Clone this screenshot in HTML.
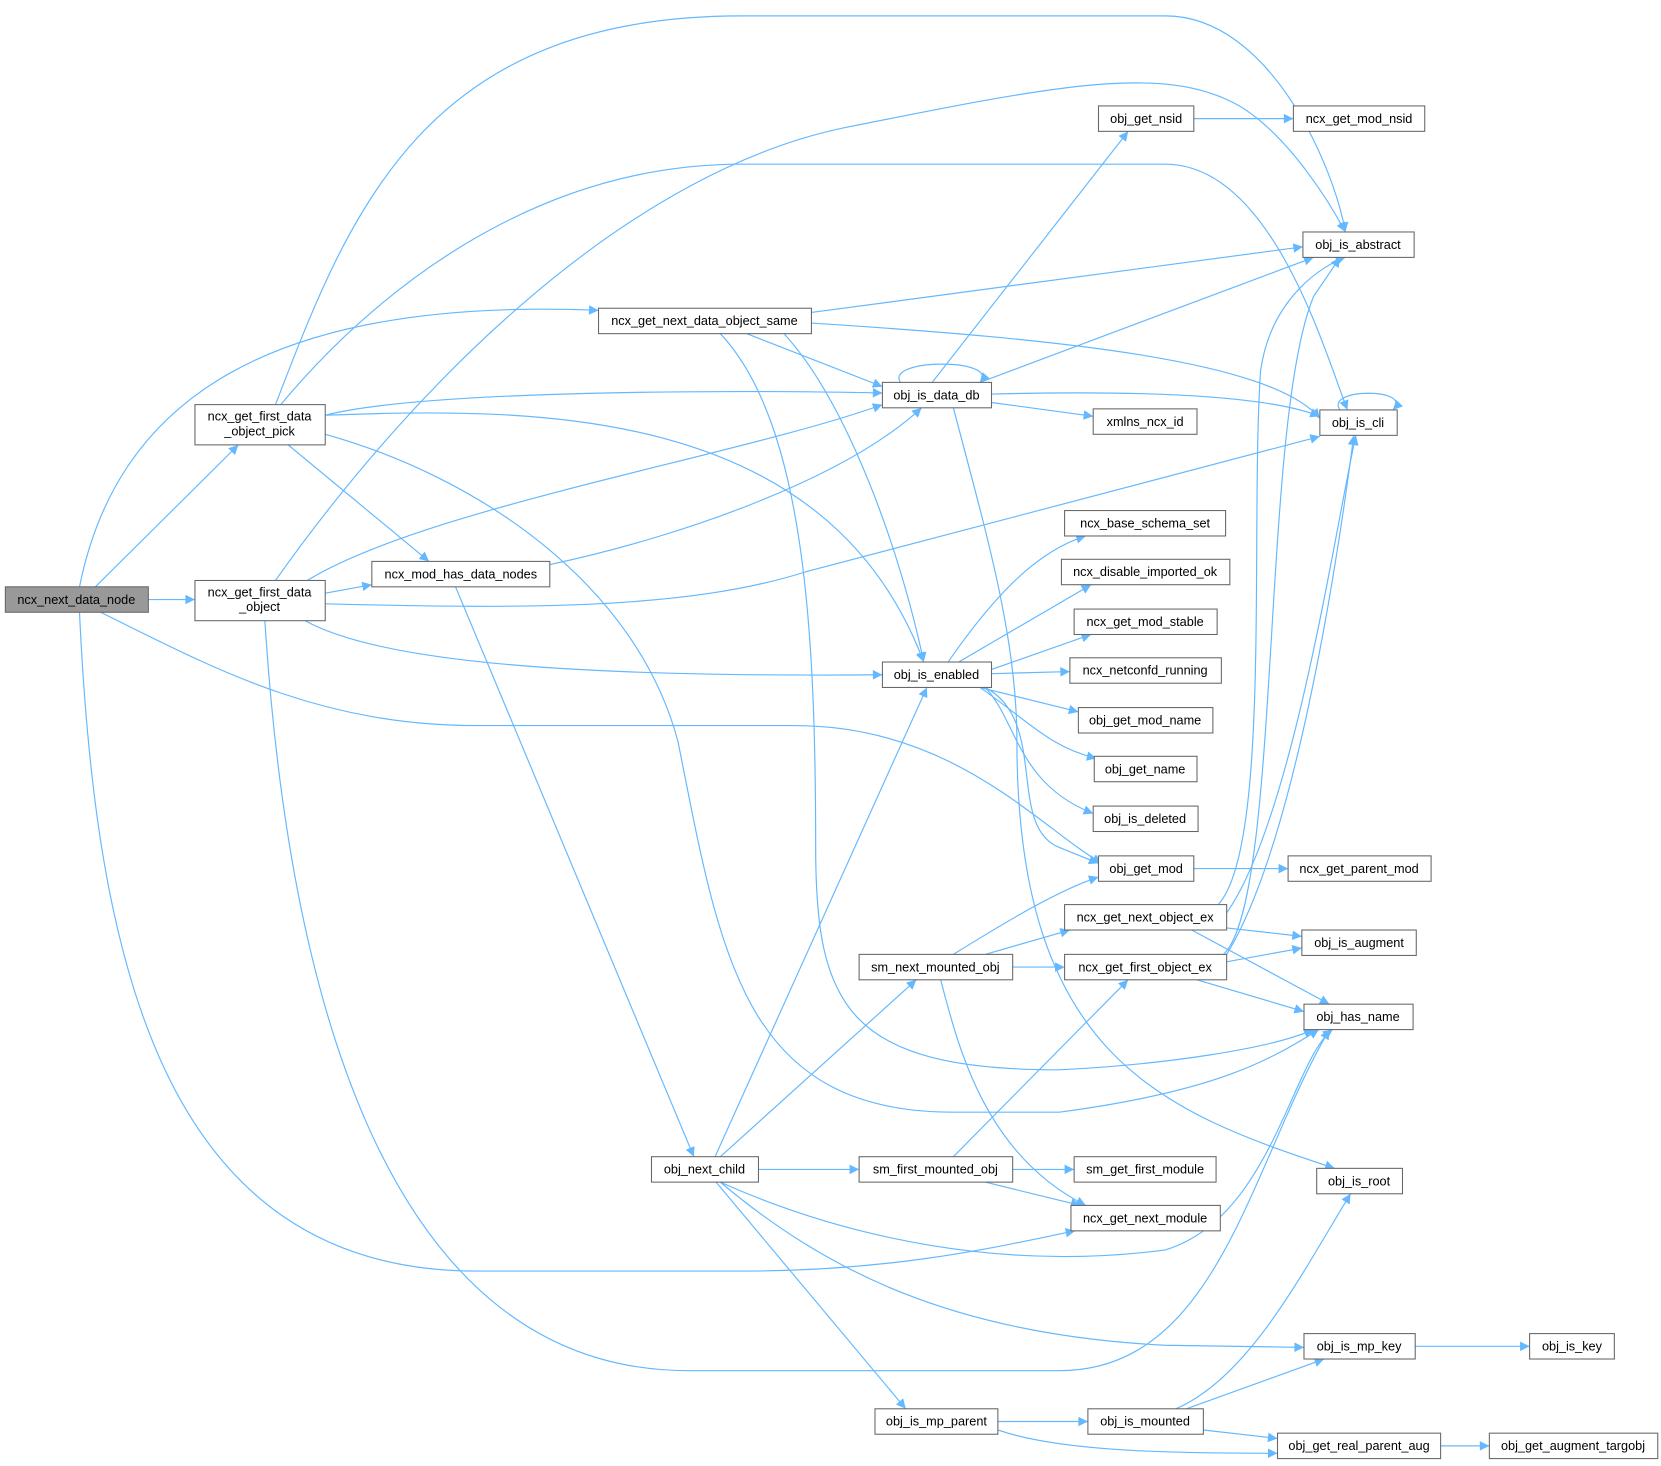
<!DOCTYPE html>
<html><head><meta charset="utf-8"><style>
html,body{margin:0;padding:0;background:#fff;}
svg{display:block}
text{font-family:"Liberation Sans",Arial,sans-serif;font-size:12px;fill:#000;text-anchor:middle}
.e{fill:none;stroke:#63b8ff;stroke-width:1.1}
.n{fill:#fff;stroke:#666;stroke-width:1}
</style></head><body>
<svg width="1661" height="1466" viewBox="0 0 1568 1384" xmlns="http://www.w3.org/2000/svg">
<defs><marker id="a" viewBox="0 0 10 10" refX="10" refY="5" markerWidth="11" markerHeight="9" markerUnits="userSpaceOnUse" orient="auto"><path d="M0,0 L10,5 L0,10 z" fill="#63b8ff"/></marker></defs>
<g class="e" marker-end="url(#a)">
<path d="M140,566 L184,566"/>
<path d="M90,554 L225,420"/>
<path d="M75,554 C110,380 250,280 565,293"/>
<path d="M95,578 C200,630 300,685 450,685 L750,685 C900,685 980,780 1040,815"/>
<path d="M75,578 C90,900 150,1200 450,1200 L700,1200 C850,1200 950,1175 1015,1162"/>
<path d="M260,382 C330,200 400,15 700,15 L1100,15 C1200,15 1260,160 1270,219"/>
<path d="M265,382 C350,280 500,155 700,155 L1100,155 C1200,155 1250,330 1272,387"/>
<path d="M307,392 C400,368 700,368 833,371"/>
<path d="M307,392 C500,385 780,380 872,625"/>
<path d="M272,420 L405,530"/>
<path d="M307,410 C450,450 600,550 640,700 C680,900 700,1050 900,1050 L1000,1050 C1150,1030 1200,1000 1245,972"/>
<path d="M307,560 L351,552"/>
<path d="M260,548 C400,350 600,160 800,120 C1000,80 1100,60 1170,100 C1220,130 1260,200 1270,219"/>
<path d="M290,548 C400,480 700,430 833,382"/>
<path d="M307,570 C500,575 650,575 760,540 L1246,412"/>
<path d="M288,586 C350,620 500,640 833,637"/>
<path d="M250,586 C270,900 350,1294 650,1294 L1000,1294 C1150,1294 1180,1100 1255,972"/>
<path d="M766,295 L1230,233"/>
<path d="M766,305 C1000,320 1200,340 1246,395"/>
<path d="M705,315 L833,365"/>
<path d="M740,315 C800,380 850,520 872,625"/>
<path d="M680,315 C760,400 770,600 770,800 C770,950 800,1010 1000,1010 C1100,1005 1200,990 1240,972"/>
<path d="M519,533 C650,505 800,450 870,385"/>
<path d="M430,554 L655,1092"/>
<path d="M850,361 C835,338 945,338 925,361"/>
<path d="M1265,387 C1250,366 1335,366 1315,387"/>
<path d="M880,361 L1065,124"/>
<path d="M925,361 L1240,243"/>
<path d="M936,372 C1100,368 1200,375 1246,393"/>
<path d="M936,380 L1032,393"/>
<path d="M900,385 C930,500 960,600 960,700 C960,1000 1100,1050 1260,1103"/>
<path d="M1127,112 L1221,112"/>
<path d="M895,625 C940,560 980,520 1025,506"/>
<path d="M905,625 L1030,552"/>
<path d="M936,632 L1030,599"/>
<path d="M936,636 L1010,634"/>
<path d="M925,649 L1018,672"/>
<path d="M925,649 C970,680 990,705 1035,716"/>
<path d="M930,649 C960,680 960,740 1032,768"/>
<path d="M930,649 C990,680 950,780 1000,800 L1037,815"/>
<path d="M1127,820 L1216,820"/>
<path d="M1150,854 C1200,800 1180,500 1190,350 C1200,280 1250,250 1270,243"/>
<path d="M1155,866 C1220,780 1260,500 1280,411"/>
<path d="M1158,876 L1229,884"/>
<path d="M1125,878 L1255,948"/>
<path d="M1155,901 C1210,850 1190,400 1240,280 L1265,243"/>
<path d="M1158,901 C1220,800 1260,550 1278,411"/>
<path d="M1158,908 L1229,895"/>
<path d="M1130,925 L1231,955"/>
<path d="M900,901 C950,870 1000,840 1037,828"/>
<path d="M930,901 L1010,878"/>
<path d="M956,913 L1005,913"/>
<path d="M888,925 C905,990 930,1090 1025,1138"/>
<path d="M900,1092 L1065,925"/>
<path d="M956,1104 L1014,1104"/>
<path d="M930,1116 L1020,1138"/>
<path d="M675,1092 L875,649"/>
<path d="M680,1092 L865,925"/>
<path d="M716,1104 L811,1104"/>
<path d="M680,1116 C800,1170 950,1200 1100,1180 C1200,1150 1220,1000 1258,972"/>
<path d="M680,1116 C780,1200 900,1260 1100,1270 L1231,1272"/>
<path d="M676,1116 L855,1330"/>
<path d="M1336,1271 L1444,1271"/>
<path d="M942,1342 L1027,1342"/>
<path d="M942,1350 C1000,1370 1100,1372 1206,1372"/>
<path d="M1110,1330 C1180,1300 1230,1200 1275,1127"/>
<path d="M1120,1330 L1250,1283"/>
<path d="M1136,1350 L1206,1358"/>
<path d="M1360,1365 L1406,1365"/>
</g>
<g>
<rect x="5" y="554" width="135" height="24" fill="#999" stroke="#666"/><text x="72" y="570">ncx_next_data_node</text>
<rect class="n" x="184" y="382" width="123" height="38"/><text x="245" y="397">ncx_get_first_data</text><text x="245" y="411">_object_pick</text>
<rect class="n" x="184" y="548" width="123" height="38"/><text x="245" y="563">ncx_get_first_data</text><text x="245" y="577">_object</text>
<rect class="n" x="565" y="291" width="201" height="24"/><text x="665" y="307">ncx_get_next_data_object_same</text>
<rect class="n" x="351" y="530" width="168" height="24"/><text x="435" y="546">ncx_mod_has_data_nodes</text>
<rect class="n" x="833" y="361" width="103" height="24"/><text x="884" y="377">obj_is_data_db</text>
<rect class="n" x="833" y="625" width="103" height="24"/><text x="884" y="641">obj_is_enabled</text>
<rect class="n" x="615" y="1092" width="101" height="24"/><text x="665" y="1108">obj_next_child</text>
<rect class="n" x="1037" y="100" width="90" height="24"/><text x="1082" y="116">obj_get_nsid</text>
<rect class="n" x="1221" y="100" width="124" height="24"/><text x="1283" y="116">ncx_get_mod_nsid</text>
<rect class="n" x="1230" y="219" width="105" height="24"/><text x="1282" y="235">obj_is_abstract</text>
<rect class="n" x="1246" y="387" width="73" height="24"/><text x="1282" y="403">obj_is_cli</text>
<rect class="n" x="1032" y="386" width="98" height="24"/><text x="1081" y="402">xmlns_ncx_id</text>
<rect class="n" x="1005" y="482" width="152" height="24"/><text x="1081" y="498">ncx_base_schema_set</text>
<rect class="n" x="1002" y="528" width="159" height="24"/><text x="1081" y="544">ncx_disable_imported_ok</text>
<rect class="n" x="1014" y="575" width="135" height="24"/><text x="1081" y="591">ncx_get_mod_stable</text>
<rect class="n" x="1010" y="621" width="143" height="24"/><text x="1081" y="637">ncx_netconfd_running</text>
<rect class="n" x="1018" y="668" width="127" height="24"/><text x="1081" y="684">obj_get_mod_name</text>
<rect class="n" x="1033" y="714" width="97" height="24"/><text x="1081" y="730">obj_get_name</text>
<rect class="n" x="1032" y="761" width="99" height="24"/><text x="1081" y="777">obj_is_deleted</text>
<rect class="n" x="1037" y="808" width="90" height="24"/><text x="1082" y="824">obj_get_mod</text>
<rect class="n" x="1216" y="808" width="135" height="24"/><text x="1283" y="824">ncx_get_parent_mod</text>
<rect class="n" x="1005" y="854" width="153" height="24"/><text x="1081" y="870">ncx_get_next_object_ex</text>
<rect class="n" x="1229" y="878" width="108" height="24"/><text x="1283" y="894">obj_is_augment</text>
<rect class="n" x="811" y="901" width="145" height="24"/><text x="883" y="917">sm_next_mounted_obj</text>
<rect class="n" x="1005" y="901" width="153" height="24"/><text x="1081" y="917">ncx_get_first_object_ex</text>
<rect class="n" x="1231" y="948" width="103" height="24"/><text x="1282" y="964">obj_has_name</text>
<rect class="n" x="1243" y="1103" width="81" height="24"/><text x="1283" y="1119">obj_is_root</text>
<rect class="n" x="811" y="1092" width="145" height="24"/><text x="883" y="1108">sm_first_mounted_obj</text>
<rect class="n" x="1014" y="1092" width="134" height="24"/><text x="1081" y="1108">sm_get_first_module</text>
<rect class="n" x="1011" y="1138" width="141" height="24"/><text x="1081" y="1154">ncx_get_next_module</text>
<rect class="n" x="1231" y="1259" width="105" height="24"/><text x="1283" y="1275">obj_is_mp_key</text>
<rect class="n" x="1444" y="1259" width="80" height="24"/><text x="1484" y="1275">obj_is_key</text>
<rect class="n" x="826" y="1330" width="116" height="24"/><text x="884" y="1346">obj_is_mp_parent</text>
<rect class="n" x="1027" y="1330" width="109" height="24"/><text x="1081" y="1346">obj_is_mounted</text>
<rect class="n" x="1206" y="1353" width="154" height="24"/><text x="1283" y="1369">obj_get_real_parent_aug</text>
<rect class="n" x="1406" y="1353" width="159" height="24"/><text x="1485" y="1369">obj_get_augment_targobj</text>
</g>
</svg>
</body></html>
